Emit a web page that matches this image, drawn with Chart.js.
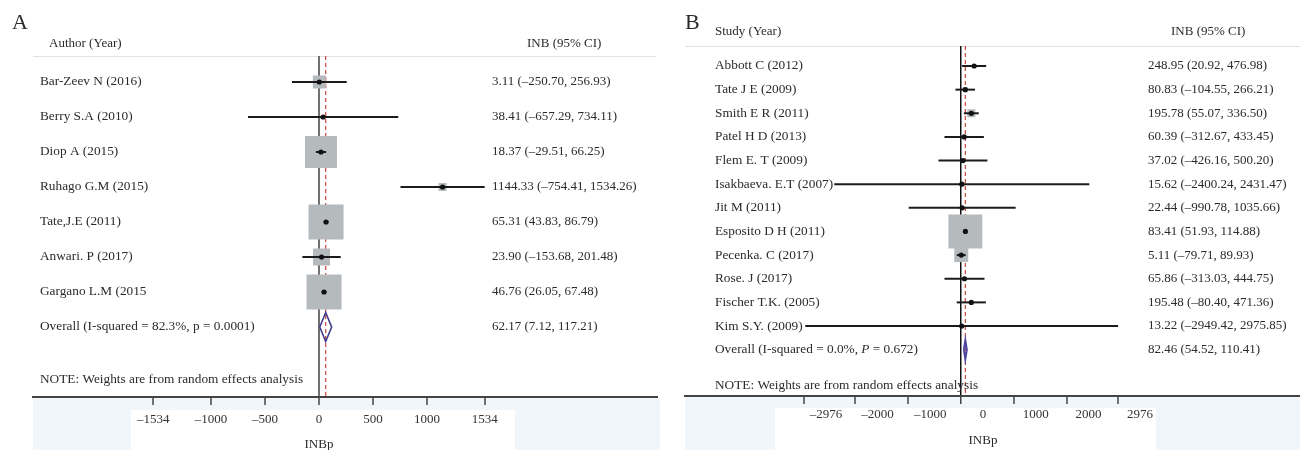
<!DOCTYPE html>
<html><head><meta charset="utf-8">
<script src="https://cdn.jsdelivr.net/npm/chart.js@4.4.1/dist/chart.umd.min.js"></script>
<style>
html,body{margin:0;padding:0;background:#fff;}
#wrap{position:relative;width:1300px;height:450px;overflow:hidden;background:#fff;}
#ca{position:absolute;left:0;top:0;width:670px;height:450px;}
#cb{position:absolute;left:670px;top:0;width:630px;height:450px;}
</style></head><body>
<div id="wrap"><canvas id="ca" width="670" height="450"></canvas><canvas id="cb" width="630" height="450"></canvas></div>
<script>
// ---------- Panel A data ----------
const studiesA = ['Bar-Zeev N (2016)','Berry S.A (2010)','Diop A (2015)','Ruhago G.M (2015)','Tate,J.E (2011)','Anwari. P (2017)','Gargano L.M (2015'];
const estA = [3.11, 38.41, 18.37, 1144.33, 65.31, 23.90, 46.76];
const lowA = [-250.70, -657.29, -29.51, 754.41, 43.83, -153.68, 26.05];   // Ruhago drawn from +754.41 as in the figure
const highA = [256.93, 734.11, 66.25, 1534.26, 86.79, 201.48, 67.48];
const weightA = [4.2, 0.2, 25.6, 1.6, 30.6, 7.2, 30.6];
const ciTextA = ['3.11 (\u2013250.70, 256.93)','38.41 (\u2013657.29, 734.11)','18.37 (\u201329.51, 66.25)','1144.33 (\u2013754.41, 1534.26)','65.31 (43.83, 86.79)','23.90 (\u2013153.68, 201.48)','46.76 (26.05, 67.48)'];
const overallA = [62.17, 7.12, 117.21];
const overallTextA = '62.17 (7.12, 117.21)';
const ticksA = [-1534, -1000, -500, 0, 500, 1000, 1534];

// ---------- Panel B data ----------
const studiesB = ['Abbott C (2012)','Tate J E (2009)','Smith E R (2011)','Patel H D (2013)','Flem E. T (2009)','Isakbaeva. E.T (2007)','Jit M (2011)','Esposito D H (2011)','Pecenka. C (2017)','Rose. J (2017)','Fischer T.K. (2005)','Kim S.Y. (2009)'];
const estB = [248.95, 80.83, 195.78, 60.39, 37.02, 15.62, 22.44, 83.41, 5.11, 65.86, 195.48, 13.22];
const lowB = [20.92, -104.55, 55.07, -312.67, -426.16, -2400.24, -990.78, 51.93, -79.71, -313.03, -80.40, -2949.42];
const highB = [476.98, 266.21, 336.50, 433.45, 500.20, 2431.47, 1035.66, 114.88, 89.93, 444.75, 471.36, 2975.85];
const weightB = [1.1, 1.7, 4.3, 0.5, 0.4, 0.02, 0.1, 77.4, 13.1, 0.5, 0.8, 0.01];
const ciTextB = ['248.95 (20.92, 476.98)','80.83 (\u2013104.55, 266.21)','195.78 (55.07, 336.50)','60.39 (\u2013312.67, 433.45)','37.02 (\u2013426.16, 500.20)','15.62 (\u20132400.24, 2431.47)','22.44 (\u2013990.78, 1035.66)','83.41 (51.93, 114.88)','5.11 (\u201379.71, 89.93)','65.86 (\u2013313.03, 444.75)','195.48 (\u201380.40, 471.36)','13.22 (\u20132949.42, 2975.85)'];
const overallB = [82.46, 54.52, 110.41];
const overallTextB = '82.46 (54.52, 110.41)';
const ticksB = [-2976, -2000, -1000, 0, 1000, 2000, 2976];

const SERIF = "'Liberation Serif', 'DejaVu Serif', serif";
Chart.defaults.font.family = SERIF;
Chart.defaults.color = '#333';

function fmtTick(v){ return v < 0 ? '\u2013' + Math.abs(v) : String(v); }

const panelPlugin = {
  id: 'panel',
  beforeDraw(chart, args, o) {
    const ctx = chart.ctx;
    ctx.save();
    ctx.fillStyle = '#fff';
    ctx.fillRect(0, 0, chart.width, chart.height);
    o.bg.forEach(r => { ctx.fillStyle = r.c; ctx.fillRect(r.x, r.y, r.w, r.h); });
    const ca = chart.chartArea;
    ctx.strokeStyle = '#e2e2e2';
    ctx.lineWidth = 1;
    ctx.beginPath();
    ctx.moveTo(ca.left, ca.top + 0.5);
    ctx.lineTo(o.headLineRight, ca.top + 0.5);
    ctx.stroke();
    ctx.restore();
  },
  afterDatasetsDraw(chart, args, o) {
    const ctx = chart.ctx;
    const ys = chart.scales.y, xs = chart.scales.x;
    ctx.save();
    ctx.fillStyle = '#2b2b2b';
    ctx.textBaseline = 'alphabetic';
    ctx.font = '22px ' + SERIF;
    ctx.textAlign = 'left';
    ctx.fillText(o.letter, o.letterX, o.letterY);
    ctx.textBaseline = 'middle';
    ctx.font = o.headSize + 'px ' + SERIF;
    const hy = ys.getPixelForValue(o.headRow);
    ctx.fillText(o.headL, o.headLX, hy);
    ctx.fillText('INB (95% CI)', o.headRX, hy);
    ctx.font = o.labelSize + 'px ' + SERIF;
    o.labels.forEach((t, i) => ctx.fillText(t, o.labelX, ys.getPixelForValue(i)));
    const oy = ys.getPixelForValue(o.labels.length);
    let x = o.labelX;
    o.overallSegs.forEach(s => {
      ctx.font = (s.i ? 'italic ' : '') + o.labelSize + 'px ' + SERIF;
      ctx.fillText(s.t, x, oy);
      x += ctx.measureText(s.t).width;
    });
    ctx.font = o.labelSize + 'px ' + SERIF;
    ctx.fillText(o.note, o.labelX, ys.getPixelForValue(o.noteRow));
    ctx.font = o.valueSize + 'px ' + SERIF;
    o.values.forEach((t, i) => ctx.fillText(t, o.valueX, ys.getPixelForValue(i)));
    ctx.fillText(o.overallValue, o.valueX, oy);
    ctx.textAlign = 'center';
    ctx.font = '13px ' + SERIF;
    ctx.fillText('INBp', xs.getPixelForValue(0) + o.titleOffset, o.titleY);
    ctx.restore();
  }
};

function makeChart(id, cfg) {
  const n = cfg.est.length;
  const pts = cfg.est.map((v, i) => ({x: v, y: i}));
  const ds = [];
  ds.push({data: pts, pointRadius: 2.6, pointBackgroundColor: '#111', pointBorderWidth: 0, order: 0});
  cfg.est.forEach((v, i) => ds.push({data: [{x: cfg.low[i], y: i}, {x: cfg.high[i], y: i}], showLine: true, borderColor: '#1b1b1b', borderWidth: 2, pointRadius: 0, order: 1}));
  const o = cfg.overall, h = cfg.diamondH;
  ds.push({data: [{x: o[1], y: n}, {x: o[0], y: n - h}, {x: o[2], y: n}, {x: o[0], y: n + h}, {x: o[1], y: n}], showLine: true, borderColor: cfg.diamondColor, backgroundColor: cfg.diamondColor, borderWidth: cfg.diamondWidth, pointRadius: 0, order: 1});
  ds.push({data: pts, pointStyle: 'rect', pointRadius: cfg.weight.map(w => cfg.k * Math.sqrt(w) / Math.SQRT2), pointBackgroundColor: '#b5babd', pointBorderWidth: 0, order: 2});
  ds.push({data: [{x: o[0], y: cfg.yMin}, {x: o[0], y: cfg.yMax}], showLine: true, borderColor: '#c8473f', borderDash: [4, 3], borderWidth: 1.2, pointRadius: 0, order: 3});

  return new Chart(document.getElementById(id), {
    type: 'scatter',
    data: {datasets: ds},
    plugins: [panelPlugin],
    options: {
      responsive: false, animation: false, events: [],
      layout: {padding: cfg.padding, autoPadding: false},
      plugins: {legend: {display: false}, tooltip: {enabled: false}, panel: cfg.panel},
      scales: {
        x: {
          type: 'linear', min: cfg.xMin, max: cfg.xMax,
          afterBuildTicks: s => { s.ticks = cfg.ticks.map(v => ({value: v})); },
          afterFit: s => { s.height = cfg.axisH; s.paddingLeft = 0; s.paddingRight = 0; },
          ticks: {callback: v => fmtTick(v), font: {size: 13}, color: '#333', padding: cfg.tickPad, maxRotation: 0, autoSkip: false, labelOffset: cfg.labelOffset},
          grid: {
            color: c => (c.tick && c.tick.value === 0) ? cfg.nullColor : 'rgba(0,0,0,0)',
            lineWidth: c => (c.tick && c.tick.value === 0) ? cfg.nullWidth : 0,
            tickColor: '#444', tickLength: 8, tickWidth: 1.5
          },
          border: {display: true, color: '#444', width: 2}
        },
        y: {type: 'linear', reverse: true, min: cfg.yMin, max: cfg.yMax, display: false}
      }
    }
  });
}

makeChart('ca', {
  est: estA, low: lowA, high: highA, weight: weightA, k: 6.33, overall: overallA,
  diamondH: 0.414, diamondColor: '#3f3b8c', diamondWidth: 1.6,
  yMin: -0.743, yMax: 9, xMin: -2648, xMax: 3139, ticks: ticksA,
  padding: {left: 33, right: 12, top: 56, bottom: 0}, axisH: 53, tickPad: 7, labelOffset: 0,
  nullColor: '#707070', nullWidth: 2,
  panel: {
    letter: 'A', letterX: 12, letterY: 29, headL: 'Author (Year)', headLX: 49, headRX: 527, headRow: -1.11, headSize: 13,
    labels: studiesA, labelX: 40, labelSize: 13.3, values: ciTextA, valueX: 492, valueSize: 13,
    overallSegs: [{t: 'Overall (I-squared = 82.3%, p = 0.0001)'}], overallValue: overallTextA,
    note: 'NOTE: Weights are from random effects analysis', noteRow: 8.5,
    titleY: 445, titleOffset: 0, headLineRight: 656,
    bg: [{c: '#f1f6fb', x: 33, y: 398, w: 627, h: 52}, {c: '#ffffff', x: 131, y: 410, w: 384, h: 40}]
  }
});

makeChart('cb', {
  est: estB, low: lowB, high: highB, weight: weightB, k: 3.86, overall: overallB,
  diamondH: 0.40, diamondColor: '#4a46a0', diamondWidth: 2,
  yMin: -0.846, yMax: 13.96, xMin: -5228, xMax: 6422, ticks: ticksB,
  padding: {left: 15, right: 0, top: 46, bottom: 0}, axisH: 54, tickPad: 3, labelOffset: 22,
  nullColor: '#111111', nullWidth: 1.5,
  panel: {
    letter: 'B', letterX: 15, letterY: 29, headL: 'Study (Year)', headLX: 45, headRX: 501, headRow: -1.44, headSize: 13,
    labels: studiesB, labelX: 45, labelSize: 13.3, values: ciTextB, valueX: 478, valueSize: 13,
    overallSegs: [{t: 'Overall (I-squared = 0.0%, '}, {t: 'P', i: true}, {t: ' = 0.672)'}], overallValue: overallTextB,
    note: 'NOTE: Weights are from random effects analysis', noteRow: 13.5,
    titleY: 441, titleOffset: 22, headLineRight: 630,
    bg: [{c: '#f1f6fb', x: 15, y: 397, w: 615, h: 53}, {c: '#ffffff', x: 105, y: 408, w: 381, h: 42}]
  }
});
</script>
</body></html>
